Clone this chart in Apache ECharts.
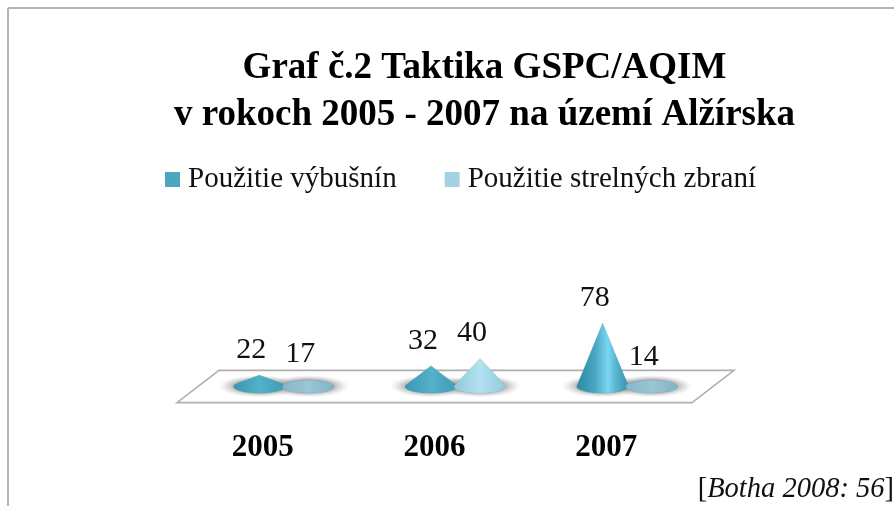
<!DOCTYPE html>
<html><head><meta charset="utf-8">
<style>html,body{margin:0;padding:0;background:#fff}#c{width:894px;height:506px}</style>
<script src="https://cdn.jsdelivr.net/npm/echarts@6/dist/echarts.min.js"></script>
</head><body><div id="c"></div>
<script>
const titleLines = ['Graf č.2 Taktika GSPC/AQIM', 'v rokoch 2005 - 2007 na území Alžírska'];
const categories = ['2005', '2006', '2007'];
const explosives = [22, 32, 78];
const firearms = [17, 40, 14];
const seriesNames = ['Použitie výbušnín', 'Použitie strelných zbraní'];

const FONT = '"Liberation Serif","Times New Roman",serif';
const grad = (stops) => ({type:'linear',x:0,y:0,x2:1,y2:0,colorStops:stops.map((c,i)=>({offset:c[0],color:c[1]}))});
const styles = [
  { legend:'#4ba6bf', off:-3.5,
    tall:[[0,'#2f8aa3'],[0.35,'#48a6c1'],[0.6,'#7bd6f1'],[0.75,'#58b6d0'],[1,'#338fa9']],
    low:[[0,'#3a97b0'],[0.5,'#55b0ca'],[1,'#3f9cb5']], flat:[[0,'#3a97b0'],[0.5,'#55b0ca'],[1,'#3f9cb5']] },
  { legend:'#a3d3e3', off:45.5,
    tall:[[0,'#8fc6d9'],[0.5,'#b4e4f4'],[1,'#8fc6d9']],
    low:[[0,'#92c8da'],[0.5,'#b2e2f2'],[1,'#92c8da']], flat:[[0,'#84b6c9'],[0.5,'#9ac6d6'],[1,'#80b2c6']] }
];
const A = 26, B = 6.5, LIFT = 8.7;

function shadowSeries(values, si){
  return {type:'custom', name:'shadow'+si, silent:true, z:2, data:values.map((v,i)=>[i,v]),
    tooltip:{show:false},
    renderItem(p, api){
      const base = api.coord([api.value(0), 0]);
      return {type:'circle', x:base[0]+styles[si].off, y:base[1]-LIFT-0.5, scaleY:0.27, silent:true,
        shape:{cx:0,cy:0,r:41},
        style:{fill:{type:'radial',x:0.5,y:0.5,r:0.5,colorStops:[
          {offset:0,color:'rgba(125,125,125,0.8)'},{offset:0.55,color:'rgba(130,130,130,0.72)'},{offset:1,color:'rgba(190,190,190,0)'}]}}};
    }};
}
function coneSeries(values, si){
  const st = styles[si];
  return {type:'custom', name:seriesNames[si], z:3, itemStyle:{color:st.legend},
    data:values.map((v,i)=>[i,v]),
    renderItem(p, api){
      const base = api.coord([api.value(0), 0]);
      const tip = api.coord([api.value(0), api.value(1)]);
      const cx = base[0]+st.off, cy = base[1]-LIFT, h = cy-tip[1];
      const pts = [];
      const flat = h <= B*1.15;
      const start = flat ? 0 : Math.asin(B/h);
      const steps = 36;
      for(let k=0;k<=steps;k++){
        const t = flat ? k/steps*Math.PI*2 : -start + k/steps*(Math.PI+2*start);
        pts.push([cx+A*Math.cos(t), cy+B*Math.sin(t)]);
      }
      if(!flat) pts.push([cx, cy-h]);
      const stops = flat ? st.flat : (si===0 && h>40 ? st.tall : st.low);
      return {type:'group', children:[
        {type:'polygon', shape:{points:pts}, style:{fill:grad(stops), stroke:'rgba(70,130,150,0.2)', lineWidth:0.6}},
        {type:'text', x:cx-8, y:tip[1]-25, style:{text:String(api.value(1)), font:'30px '+FONT, fill:'#111', align:'center', verticalAlign:'middle'}}
      ]};
    }};
}
const floorSeries = {type:'custom', name:'floor', silent:true, z:1, data:[0], tooltip:{show:false},
  renderItem(p){
    const c = p.coordSys, b = c.y+c.height;
    return {type:'polygon', shape:{points:[[c.x,b+7.2],[c.x+c.width,b+7.2],[c.x+c.width+42,b-25],[c.x+42,b-25]]},
      style:{fill:'#fff', stroke:'#b0b0b0', lineWidth:1.6}};
  }};

const chart = echarts.init(document.getElementById('c'), null, {renderer:'canvas'});
chart.setOption({
  animation:false,
  backgroundColor:'#fff',
  title:{text:titleLines.join('\n'), left:479.5, textAlign:'center', top:40,
    textStyle:{fontFamily:FONT, fontWeight:'bold', fontSize:37, lineHeight:47, color:'#000'}},
  legend:{data:seriesNames, left:160, top:160, icon:'rect', itemWidth:15, itemHeight:15, itemGap:48,
    textStyle:{fontFamily:FONT, fontSize:29, color:'#111', padding:[0,0,0,3]}},
  grid:{left:177, width:515, top:302.4, bottom:110.6},
  xAxis:{type:'category', data:categories, axisLine:{show:false}, axisTick:{show:false}, splitLine:{show:false},
    axisLabel:{margin:37, fontFamily:FONT, fontWeight:'bold', fontSize:31, color:'#000'}},
  yAxis:{type:'value', min:0, max:100, show:false},
  graphic:[
    {type:'line', silent:true, shape:{x1:8,y1:8,x2:894,y2:8}, style:{stroke:'#b4b4b4',lineWidth:2}},
    {type:'line', silent:true, shape:{x1:8,y1:8,x2:8,y2:506}, style:{stroke:'#b4b4b4',lineWidth:2}},
    {type:'text', right:0, top:475, style:{text:'{a|[}{b|Botha 2008: 56}{a|]}',
      rich:{a:{fontFamily:FONT,fontSize:28.5,fill:'#111',color:'#111'},b:{fontFamily:FONT,fontStyle:'italic',fontSize:28.5,fill:'#111',color:'#111'}}}}
  ],
  series:[floorSeries, shadowSeries(explosives,0), shadowSeries(firearms,1), coneSeries(explosives,0), coneSeries(firearms,1)]
});
</script></body></html>
